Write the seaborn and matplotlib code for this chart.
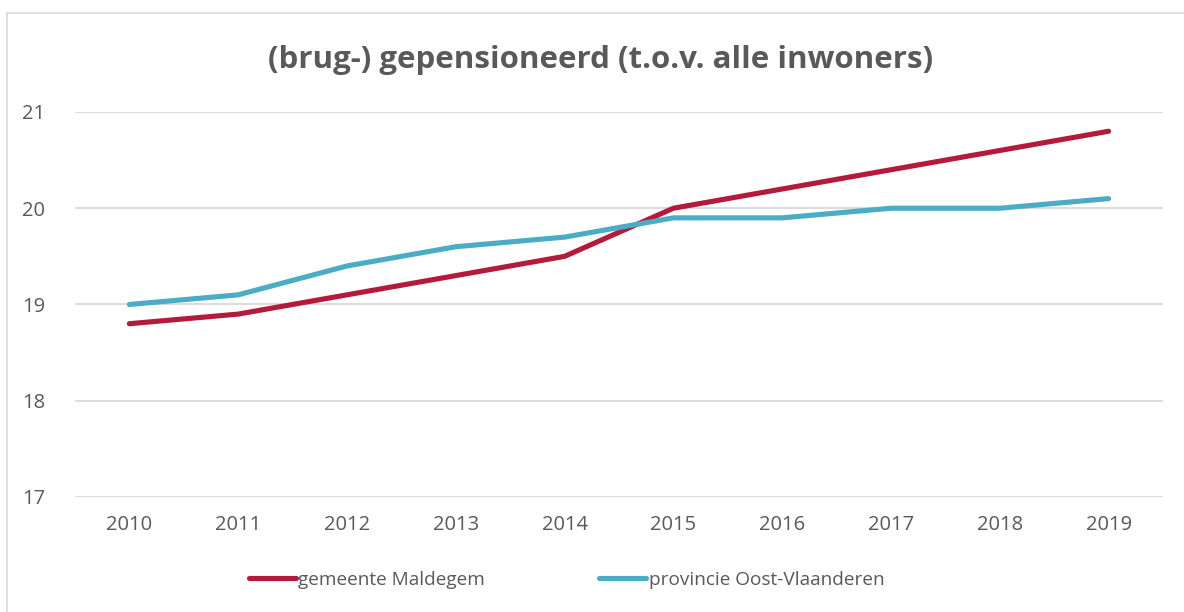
import matplotlib.pyplot as plt
import seaborn as sns
import pandas as pd
from matplotlib.patches import Rectangle

# gegevens
jaren = ['2010', '2011', '2012', '2013', '2014', '2015', '2016', '2017', '2018', '2019']
maldegem = [18.8, 18.9, 19.1, 19.3, 19.5, 20.0, 20.2, 20.4, 20.6, 20.8]
oost_vl = [19.0, 19.1, 19.4, 19.6, 19.7, 19.9, 19.9, 20.0, 20.0, 20.1]
reeksen = ['gemeente Maldegem', 'provincie Oost-Vlaanderen']
kleuren = ['#B41A3B', '#4BACC6']
y_ticks = [17, 18, 19, 20, 21]

df = pd.DataFrame({
    'jaar': jaren * 2,
    'waarde': maldegem + oost_vl,
    'reeks': [reeksen[0]] * len(jaren) + [reeksen[1]] * len(jaren),
})

sns.set_style('white')
plt.rcParams['font.family'] = ['Open Sans', 'DejaVu Sans']
tekst = '#595959'

fig = plt.figure(figsize=(11.84, 6.12), dpi=100)
ax = fig.add_axes([0.0633, 0.188, 0.919, 0.629])

# kader rond de grafiek
fig.patches.append(Rectangle((7 / 1184, -0.05), 1.2, 1 - 13 / 612 + 0.05,
                             transform=fig.transFigure, fill=False,
                             edgecolor='#D9D9D9', linewidth=1.2))

sns.lineplot(data=df, x='jaar', y='waarde', hue='reeks', palette=kleuren,
             linewidth=3.7, sort=False, ax=ax)

ax.set_ylim(17, 21)
ax.set_xlim(-0.5, len(jaren) - 0.5)
ax.set_yticks(y_ticks)
ax.yaxis.grid(True, color='#D9D9D9', linewidth=1.3)
ax.set_axisbelow(True)
for s in ax.spines.values():
    s.set_visible(False)
ax.tick_params(axis='both', length=0, labelsize=14.5, labelcolor=tekst)
ax.tick_params(axis='x', pad=13)
ax.tick_params(axis='y', pad=38)
for lbl in ax.get_yticklabels():
    lbl.set_horizontalalignment('left')
ax.set_xlabel('')
ax.set_ylabel('')

fig.text(0.507, 0.902, '(brug-) gepensioneerd (t.o.v. alle inwoners)', ha='center', va='center',
         fontsize=22.5, fontweight='bold', color=tekst)

ax.legend(loc='center', bbox_to_anchor=(0.452, -0.215), ncol=2, frameon=False,
          fontsize=13.7, labelcolor=tekst, handlelength=2.45, handletextpad=0.15,
          columnspacing=6.0)

fig.savefig('out.png', dpi=100)
